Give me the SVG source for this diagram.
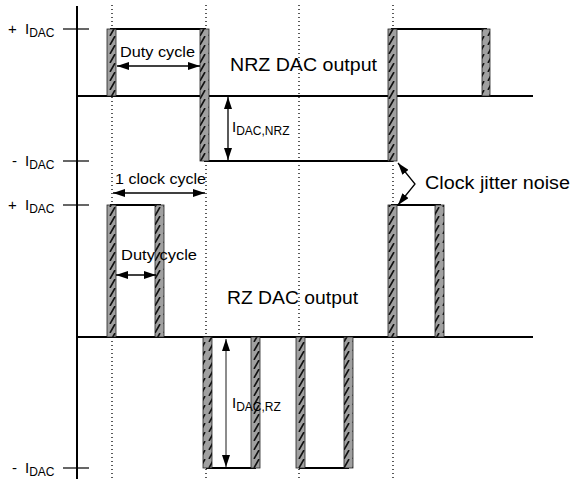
<svg xmlns="http://www.w3.org/2000/svg" width="571" height="483" viewBox="0 0 571 483">
<style>
text{font-family:"Liberation Sans",Arial,sans-serif;fill:#000}
.lbl{font-size:15px}
.sub{font-size:12px}
.big{font-size:18px}
.mid{font-size:15px}
.wave{fill:none;stroke:#000;stroke-width:2;stroke-linejoin:miter}
.base{fill:none;stroke:#000;stroke-width:2}
.tick{stroke:#000;stroke-width:1.2}
.dot{stroke:#000;stroke-width:1.3;stroke-dasharray:1 3;fill:none}
.bar{fill:url(#hatch);stroke:#222;stroke-width:0.8}
.arr{fill:none;stroke:#000;stroke-width:1.3;marker-start:url(#ah);marker-end:url(#ah)}
.arrt{fill:none;stroke:#000;stroke-width:0.9;marker-start:url(#ah);marker-end:url(#ah)}
</style>
<defs>
<pattern id="hatch" patternUnits="userSpaceOnUse" width="9" height="9">
<rect width="9" height="9" fill="#a0a0a0"/>
<line x1="2" y1="9" x2="7" y2="0" stroke="#111" stroke-width="1.6"/>
</pattern>
<marker id="ah" viewBox="0 0 12 8" refX="12" refY="4" markerWidth="12" markerHeight="8" markerUnits="userSpaceOnUse" orient="auto-start-reverse">
<path d="M0,0 L12,4 L0,8 z" fill="#000"/>
</marker>
</defs>
<rect width="571" height="483" fill="#fff"/>

<g id="clock-grid">
<line class="dot" x1="112" y1="5" x2="112" y2="481"/>
<line class="dot" x1="206" y1="5" x2="206" y2="481"/>
<line class="dot" x1="299" y1="5" x2="299" y2="481"/>
<line class="dot" x1="393" y1="5" x2="393" y2="481"/>
</g>

<g id="axis">
<line x1="77" y1="6" x2="77" y2="479" stroke="#000" stroke-width="2"/>
<line class="tick" x1="63" y1="29" x2="89" y2="29"/>
<line class="tick" x1="63" y1="161" x2="89" y2="161"/>
<line class="tick" x1="63" y1="205" x2="89" y2="205"/>
<line class="tick" x1="63" y1="468" x2="89" y2="468"/>
<text class="lbl" x="8" y="34">+<tspan x="25">I</tspan><tspan class="sub" dy="3">DAC</tspan></text>
<text class="lbl" x="12" y="166">-<tspan x="25">I</tspan><tspan class="sub" dy="3">DAC</tspan></text>
<text class="lbl" x="8" y="210">+<tspan x="25">I</tspan><tspan class="sub" dy="3">DAC</tspan></text>
<text class="lbl" x="12" y="473">-<tspan x="25">I</tspan><tspan class="sub" dy="3">DAC</tspan></text>
</g>

<g id="nrz-output">
<line class="base" x1="77" y1="96" x2="533" y2="96"/>
<polyline class="wave" points="77,96 111,96 111,29 205,29 205,161 392,161 392,29 486,29 486,96 533,96"/>
<rect class="bar" x="107" y="29" width="9" height="67"/>
<rect class="bar" x="200" y="29" width="9" height="132"/>
<rect class="bar" x="388" y="29" width="9" height="132"/>
<rect class="bar" x="482" y="29" width="8" height="67"/>
<text class="big" x="230" y="71" textLength="147" lengthAdjust="spacingAndGlyphs">NRZ DAC output</text>
</g>

<g id="rz-output">
<line class="base" x1="77" y1="337" x2="533" y2="337"/>
<polyline class="wave" points="77,337 111,337 111,205 160,205 160,337 207,337 207,468 255,468 255,337 300,337 300,468 348,468 348,337 392,337 392,205 440,205 440,337 533,337"/>
<rect class="bar" x="107" y="205" width="9" height="132"/>
<rect class="bar" x="155" y="205" width="9" height="132"/>
<rect class="bar" x="203" y="337" width="9" height="131"/>
<rect class="bar" x="251" y="337" width="9" height="131"/>
<rect class="bar" x="296" y="337" width="9" height="131"/>
<rect class="bar" x="344" y="337" width="9" height="131"/>
<rect class="bar" x="388" y="205" width="9" height="132"/>
<rect class="bar" x="435" y="205" width="9" height="132"/>
<text class="big" x="227" y="304" textLength="131" lengthAdjust="spacingAndGlyphs">RZ DAC output</text>
</g>

<g id="connectors">
<line class="arr" x1="117" y1="66" x2="200" y2="66"/>
<line class="arr" x1="113" y1="193" x2="205" y2="193"/>
<line class="arr" x1="116" y1="275" x2="156" y2="275"/>
<line class="arr" x1="228" y1="97" x2="228" y2="160"/>
<line class="arrt" x1="226" y1="339" x2="226" y2="467"/>
<path class="arr" d="M398,163 L415,184 L398,205"/>
</g>

<g id="annotations">
<text class="mid" x="120" y="57" textLength="75" lengthAdjust="spacingAndGlyphs">Duty cycle</text>
<text class="mid" x="115" y="184" textLength="91" lengthAdjust="spacingAndGlyphs">1 clock cycle</text>
<text class="mid" x="121" y="260" textLength="76" lengthAdjust="spacingAndGlyphs">Duty cycle</text>
<text class="lbl" x="232" y="132">I<tspan class="sub" dy="3">DAC,NRZ</tspan></text>
<text class="lbl" x="232" y="408">I<tspan class="sub" dy="3">DAC,RZ</tspan></text>
<text class="big" x="425" y="189" textLength="145" lengthAdjust="spacingAndGlyphs">Clock jitter noise</text>
</g>
</svg>
